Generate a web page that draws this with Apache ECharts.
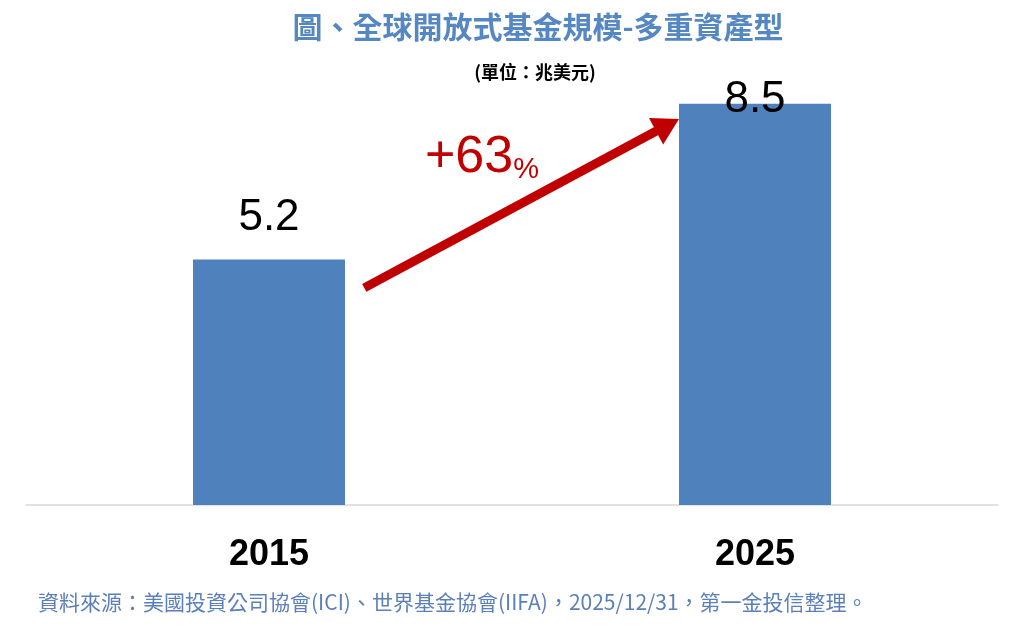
<!DOCTYPE html>
<html><head><meta charset="utf-8">
<script src="https://cdn.jsdelivr.net/npm/echarts@6/dist/echarts.min.js"></script>
<style>html,body{margin:0;padding:0;background:#fff}#c{width:1024px;height:628px}</style>
</head><body><div id="c"></div>
<script>
var categories = ['2015', '2025'];
var values = [5.2, 8.5];
var growthText = '+63';
var arrowFrom = [0.348, 4.6];
var arrowTo = [0.66, 8.05];
var titleText = '圖、全球開放式基金規模-多重資產型';
var unitText = '(單位：兆美元)';
var sourceText = '資料來源：美國投資公司協會(ICI)、世界基金協會(IIFA)，2025/12/31，第一金投信整理。';

var FONT = '"Liberation Sans", "Noto Sans CJK TC", sans-serif';
var chart = echarts.init(document.getElementById('c'));
var barData = values.map(function (v, i) {
  var item = { value: v };
  if (i === 1) item.label = { position: 'top', distance: 0, offset: [0, 18] };
  return item;
});
chart.setOption({
  animation: false,
  title: [
    { text: titleText, left: 533, top: 7, textAlign: 'center',
      textStyle: { fontFamily: '"Noto Sans CJK TC", sans-serif', fontSize: 30, fontWeight: 'bold', color: '#5587C2' } },
    { text: unitText, left: 530, top: 58, textAlign: 'center',
      textStyle: { fontFamily: '"Noto Sans CJK TC", sans-serif', fontSize: 18, fontWeight: 'bold', color: '#000' } }
  ],
  grid: { left: 26, right: 26, top: 33, bottom: 123 },
  xAxis: [
    { type: 'category', data: categories,
      axisLine: { lineStyle: { color: '#D9D9D9', width: 1.5 } },
      axisTick: { show: false },
      axisLabel: { margin: 32, fontFamily: FONT, fontSize: 36, fontWeight: 'bold', color: '#000' } },
    { type: 'value', min: 0, max: 1, show: false }
  ],
  yAxis: { type: 'value', min: 0, max: 10, show: false, splitLine: { show: false } },
  series: [
    { type: 'bar', data: barData, barWidth: 152,
      itemStyle: { color: '#4F81BD' },
      label: { show: true, position: 'top', distance: 20, fontFamily: FONT, fontSize: 44, color: '#000' } },
    { type: 'line', xAxisIndex: 1, data: [], silent: true,
      markLine: { silent: true, symbol: ['none', 'triangle'], symbolSize: [30, 26],
        label: { show: false },
        lineStyle: { color: '#C00000', width: 9, type: 'solid' },
        itemStyle: { color: '#C00000' },
        data: [[{ coord: arrowFrom }, { coord: arrowTo }]] } }
  ],
  graphic: [
    { type: 'text', left: 425, top: 132,
      style: { text: '{a|' + growthText + '}{b|%}',
        rich: { a: { fontFamily: FONT, fontSize: 52, fill: '#C00000', verticalAlign: 'bottom', lineHeight: 56 },
                b: { fontFamily: FONT, fontSize: 29, fill: '#C00000', verticalAlign: 'bottom', lineHeight: 56 } } } },
    { type: 'text', left: 38, top: 592,
      style: { text: sourceText, fontFamily: '"Noto Sans CJK TC", sans-serif', fontSize: 21, fill: '#5B7FB8' } }
  ]
});
</script></body></html>
